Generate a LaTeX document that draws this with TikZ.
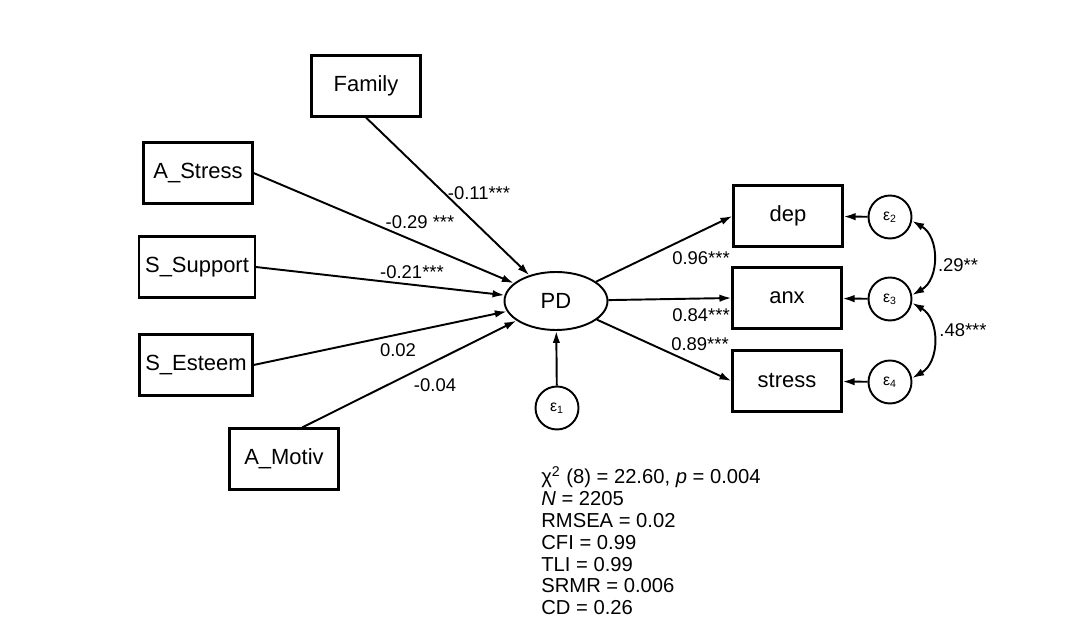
\documentclass[tikz,border=0pt]{standalone}
\usepackage{fontspec}
\setmainfont{Liberation Sans}
\usetikzlibrary{shapes.geometric,arrows.meta}

\begin{document}
\begin{tikzpicture}[x=0.02cm,y=0.02cm,
    var/.style={draw,line width=1.2pt,minimum width=2.18cm,minimum height=1.22cm,font=\fontsize{12.5}{14}\selectfont},
    lat/.style={draw,ellipse,line width=1.1pt,minimum width=2.06cm,minimum height=1.16cm,inner sep=0pt,font=\fontsize{12.5}{14}\selectfont},
    err/.style={draw,circle,line width=1.1pt,minimum size=0.86cm,inner sep=0pt,font=\fontsize{9}{10}\selectfont},
    path/.style={-{Latex[length=2.4mm,width=1.5mm]},line width=1.1pt},
    cov/.style={{Latex[length=2.4mm,width=1.5mm]}-{Latex[length=2.4mm,width=1.5mm]},line width=1.1pt},
    coef/.style={font=\fontsize{10.5}{12}\selectfont,inner sep=0pt}]
  \useasboundingbox (0,0) rectangle (1076,-634);
  % predictors
  \node[var] (family) at (366,-86) {Family};
  \node[var] (astress) at (198,-173) {A\_Stress};
  \node[var] (ssupport) at (197,-267) {S\_Support};
  \node[var] (sesteem) at (196,-365) {S\_Esteem};
  \node[var] (amotiv) at (284,-459) {A\_Motiv};
  % latent and outcomes
  \node[lat] (pd) at (556,-301) {PD};
  \node[err] (e1) at (557,-408) {ε\textsubscript{1}};
  \node[var] (dep) at (788,-216) {dep};
  \node[var] (anx) at (787,-298) {anx};
  \node[var] (stress) at (787,-381) {stress};
  \foreach \n/\y/\i in {e2/-217/2,e3/-299/3,e4/-382/4}
    \node[err] (\n) at (890,\y) {ε\textsubscript{\i}};
  % paths
  \draw[path] (family.south) -- (pd);
  \draw[path] (astress.east) -- (pd);
  \draw[path] (ssupport.east) -- (pd);
  \draw[path] (sesteem.east) -- (pd);
  \draw[path] (amotiv.60) -- (pd);
  \draw[path] (e1) -- (pd);
  \draw[path] (pd) -- (dep.west);
  \draw[path] (pd) -- (anx.west);
  \draw[path] (pd) -- (stress.west);
  \draw[path] (e2) -- (dep);
  \draw[path] (e3) -- (anx);
  \draw[path] (e4) -- (stress);
  \draw[cov] (e2.-10) to[bend left=60,looseness=1.1] (e3.10);
  \draw[cov] (e3.-10) to[bend left=60,looseness=1.1] (e4.10);
  % coefficients
  \node[coef] (c1) at (479,-193) {-0.11***};
  \node[coef] (c2) at (420,-222) {-0.29 ***};
  \node[coef] (c3) at (412,-272) {-0.21***};
  \node[coef] (c4) at (398,-350) {0.02};
  \node[coef] (c5) at (435,-385) {-0.04};
  \node[coef] (c6) at (701,-258) {0.96***};
  \node[coef] (c7) at (701,-315) {0.84***};
  \node[coef] (c8) at (700,-344) {0.89***};
  \node[coef] (c9) at (958,-265) {.29**};
  \node[coef] (c10) at (963,-330) {.48***};
  % fit
  \node[anchor=north west,align=left,inner sep=0pt,font=\fontsize{11.5}{12.4}\selectfont] (fit) at (541,-466)
    {χ\textsuperscript{2} (8) = 22.60, \textit{p} = 0.004\\\textit{N} = 2205\\RMSEA = 0.02\\CFI = 0.99\\TLI = 0.99\\SRMR = 0.006\\CD = 0.26};
\end{tikzpicture}
\end{document}
